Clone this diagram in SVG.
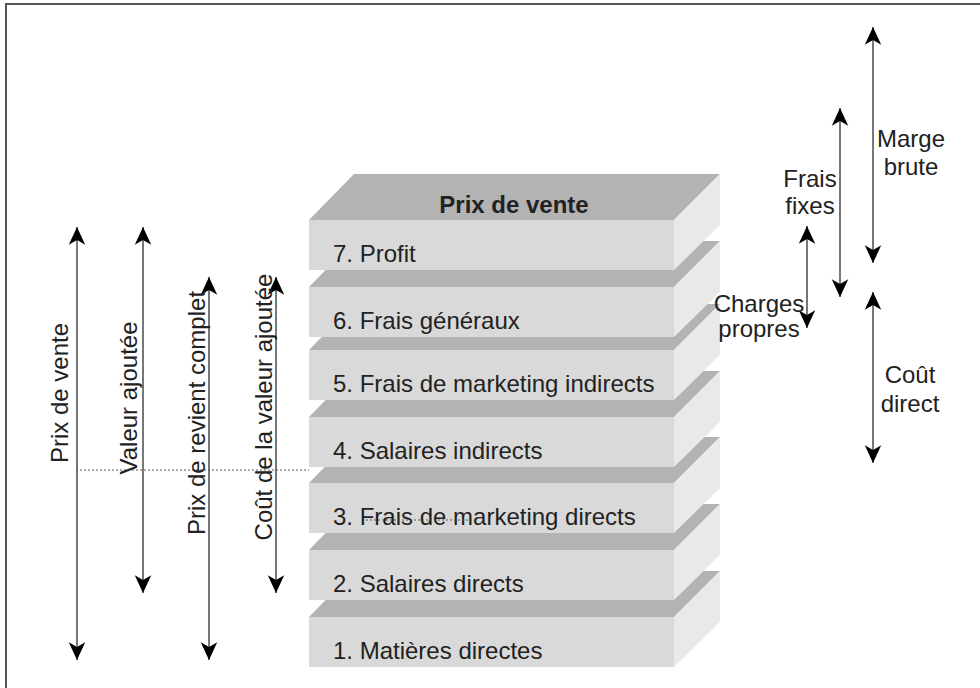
<svg xmlns="http://www.w3.org/2000/svg" width="980" height="688" viewBox="0 0 980 688">
<style>
.top{fill:#b3b3b3}
.front{fill:#d9d9d9}
.side{fill:#e9e9e9}
.lbl{font-family:"Liberation Sans",Arial,sans-serif;font-size:24px;fill:#222}
.bold{font-weight:bold}
.arr{stroke:#555;stroke-width:1.6;fill:none;marker-start:url(#ah);marker-end:url(#ah)}
.dot{stroke:#555;stroke-width:1.2;stroke-dasharray:2 2;fill:none}
</style>
<defs>
<marker id="ah" markerUnits="userSpaceOnUse" markerWidth="20" markerHeight="20" viewBox="-16 -8 17 16" refX="0" refY="0" orient="auto-start-reverse">
<path d="M0,0 L-15,-7 L-11,0 L-15,7 Z" fill="#000"/>
</marker>
</defs>
<rect width="980" height="688" fill="#fff"/>
<path d="M6,688 V4 H980" stroke="#555" stroke-width="2" fill="none"/>

<g id="slab1">
<polygon class="top" points="309,617 354,571 720,571 674,617"/>
<rect class="front" x="309" y="617" width="365" height="50"/>
<polygon class="side" points="674,617 720,571 720,622 674,667"/>
<text class="lbl" x="333" y="659">1. Matières directes</text>
</g>
<g id="slab2">
<polygon class="top" points="309,550 354,504 720,504 674,550"/>
<rect class="front" x="309" y="550" width="365" height="50"/>
<polygon class="side" points="674,550 720,504 720,555 674,600"/>
<text class="lbl" x="333" y="592">2. Salaires directs</text>
</g>
<g id="slab3">
<polygon class="top" points="309,483 354,437 720,437 674,483"/>
<rect class="front" x="309" y="483" width="365" height="50"/>
<polygon class="side" points="674,483 720,437 720,488 674,533"/>
<text class="lbl" x="333" y="525">3. Frais de marketing directs</text>
</g>
<g id="slab4">
<polygon class="top" points="309,417 354,371 720,371 674,417"/>
<rect class="front" x="309" y="417" width="365" height="50"/>
<polygon class="side" points="674,417 720,371 720,422 674,467"/>
<text class="lbl" x="333" y="459">4. Salaires indirects</text>
</g>
<g id="slab5">
<polygon class="top" points="309,350 354,304 720,304 674,350"/>
<rect class="front" x="309" y="350" width="365" height="50"/>
<polygon class="side" points="674,350 720,304 720,355 674,400"/>
<text class="lbl" x="333" y="392">5. Frais de marketing indirects</text>
</g>
<g id="slab6">
<polygon class="top" points="309,287 354,241 720,241 674,287"/>
<rect class="front" x="309" y="287" width="365" height="50"/>
<polygon class="side" points="674,287 720,241 720,292 674,337"/>
<text class="lbl" x="333" y="329">6. Frais généraux</text>
</g>
<g id="slab7">
<polygon class="top" points="309,220 354,174 720,174 674,220"/>
<rect class="front" x="309" y="220" width="365" height="50"/>
<polygon class="side" points="674,220 720,174 720,225 674,270"/>
<text class="lbl bold" x="514" y="213" text-anchor="middle">Prix de vente</text>
<text class="lbl" x="333" y="262">7. Profit</text>
</g>

<g id="connectors">
<line class="dot" x1="76" y1="470" x2="309" y2="470"/>
<line class="dot" x1="366" y1="520" x2="470" y2="520"/>
<line class="arr" x1="77" y1="227" x2="77" y2="660"/>
<line class="arr" x1="143" y1="227" x2="143" y2="593"/>
<line class="arr" x1="209" y1="277" x2="209" y2="660"/>
<line class="arr" x1="276" y1="277" x2="276" y2="593"/>
<line class="arr" x1="873" y1="27" x2="873" y2="263"/>
<line class="arr" x1="873" y1="292" x2="873" y2="463"/>
<line class="arr" x1="840" y1="108" x2="840" y2="297"/>
<line class="arr" x1="807" y1="226" x2="807" y2="328"/>
</g>

<g id="label-prix-vente"><text class="lbl" transform="translate(68,393) rotate(-90)" text-anchor="middle">Prix de vente</text></g>
<g id="label-valeur-ajoutee"><text class="lbl" transform="translate(137,398) rotate(-90)" text-anchor="middle">Valeur ajoutée</text></g>
<g id="label-prix-revient"><text class="lbl" transform="translate(205,413) rotate(-90)" text-anchor="middle">Prix de revient complet</text></g>
<g id="label-cout-valeur"><text class="lbl" transform="translate(272,407) rotate(-90)" text-anchor="middle">Coût de la valeur ajoutée</text></g>

<g id="label-marge-brute"><text class="lbl" text-anchor="middle"><tspan x="911" y="147">Marge</tspan><tspan x="911" y="175">brute</tspan></text></g>
<g id="label-frais-fixes"><text class="lbl" text-anchor="middle"><tspan x="810" y="187">Frais</tspan><tspan x="810" y="214">fixes</tspan></text></g>
<g id="label-charges-propres"><text class="lbl" text-anchor="middle"><tspan x="759" y="312">Charges</tspan><tspan x="759" y="337">propres</tspan></text></g>
<g id="label-cout-direct"><text class="lbl" text-anchor="middle"><tspan x="910" y="383">Coût</tspan><tspan x="910" y="412">direct</tspan></text></g>
</svg>
